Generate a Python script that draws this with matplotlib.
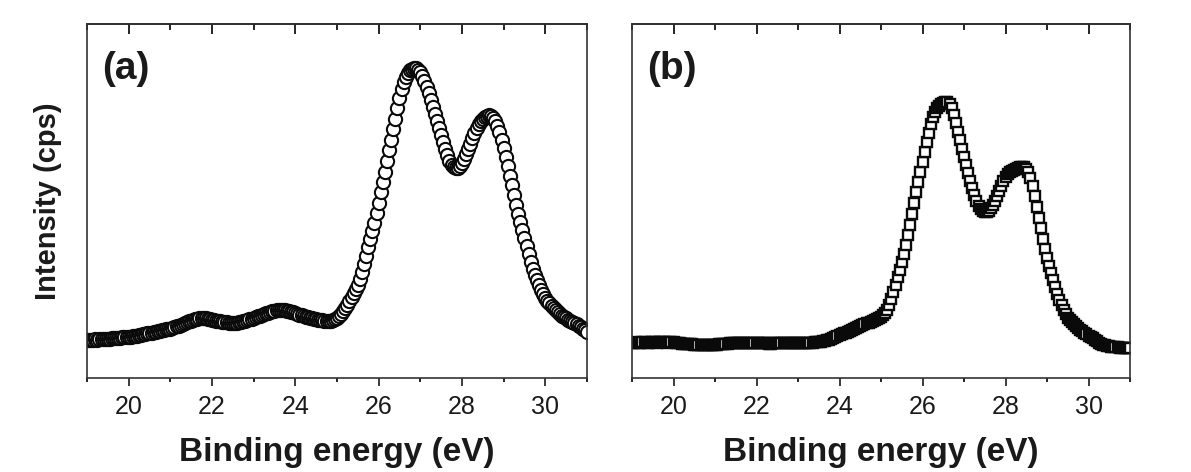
import numpy as np
import matplotlib
matplotlib.use('Agg')
import matplotlib.pyplot as plt
from matplotlib.ticker import MultipleLocator

plt.rcParams['font.family'] = ['Liberation Sans', 'DejaVu Sans']

# binding energy grid of the scan (eV), 0.05 eV step
energy = np.linspace(19.0, 31.0, 241)

# panel (a): intensity (arbitrary cps units)
int_a = [
    38, 38, 38, 38, 39, 38, 39, 39, 39, 39, 39, 39, 40, 40, 40, 40, 40, 41, 41, 41, 41,
    41, 42, 42, 42, 43, 43, 44, 44, 45, 45, 45, 46, 46, 47, 47, 48, 48, 49, 49, 49,
    50, 51, 52, 52, 53, 54, 55, 56, 57, 57, 58, 59, 59, 60, 60,
    60, 60, 59, 59, 58, 58, 57, 57, 57, 56, 56, 56, 55, 55, 55,
    55, 55, 56, 56, 57, 57, 58, 59, 59, 60,
    61, 62, 62, 63, 64, 65, 65, 66, 67, 67, 68, 68, 68,
    68, 68, 67, 67, 66, 66, 65, 64, 63, 63, 62, 61, 61, 60, 60, 59, 59,
    58, 58, 58, 57, 57, 57, 57, 58, 59, 60,
    62, 64, 67, 70, 73, 77, 81, 85, 89, 93,
    99, 106, 114, 122, 131, 139, 147, 155, 165, 175,
    186, 196, 206, 217, 228, 238, 249, 259, 270, 280,
    289, 296, 301, 305, 308, 309, 310, 310, 308, 306,
    302, 297, 291, 285, 278, 271, 264, 257, 250, 243,
    236, 229, 223, 217, 213, 211, 210, 210, 212, 215,
    219, 224, 229, 234, 240, 245, 250, 254, 257, 259,
    261, 262, 263, 262, 260, 257, 252, 246, 238, 230,
    221, 212, 202, 193, 183, 173, 164, 156, 148, 140,
    132, 124, 116, 109, 103, 98, 93, 88, 84, 80,
    77, 75, 72, 70, 68, 66, 64, 62, 61, 60,
    58, 57, 56, 55, 54, 52, 51, 49, 48, 46,
]

# panel (b)
int_b = [
    35, 35, 36, 35, 35, 36, 36, 35, 35, 36, 36, 36, 35, 36, 36, 36, 36, 35, 36, 36, 36,
    35, 35, 35, 34, 34, 34, 34, 34, 34, 33, 33, 33, 33, 33, 33, 33, 33, 33, 33, 33,
    33, 34, 34, 34, 34, 34, 35, 35, 35, 35, 35, 35, 35, 35, 35, 35, 35, 35, 35, 35,
    35, 35, 35, 35, 35, 34, 34, 35, 35, 35, 35, 35, 35, 35, 35, 35, 35, 35, 35, 35,
    35, 35, 35, 35, 35, 35, 35, 36, 36, 36,
    36, 37, 37, 38, 38, 39, 40, 41, 42, 43,
    44, 45, 45, 46, 47, 48, 49, 50, 51, 52,
    53, 54, 55, 55, 56, 57, 58, 59, 60, 61,
    63, 65, 68, 73, 79, 86, 93, 101, 108, 116,
    124, 133, 143, 153, 164, 175, 186, 196, 206, 216,
    226, 236, 245, 254, 261, 266, 270, 272, 274, 275,
    276, 276, 274, 270, 263, 255, 246, 238, 229, 221,
    213, 205, 197, 190, 183, 177, 172, 169, 167, 166,
    166, 167, 170, 173, 177, 182, 187, 192, 197, 201,
    204, 206, 207, 208, 209, 210, 211, 211, 211, 209,
    206, 200, 192, 182, 171, 160, 150, 139, 129, 120,
    112, 105, 98, 91, 84, 78, 73, 68, 64, 60,
    58, 56, 54, 52, 50, 48, 47, 45, 44, 42,
    41, 40, 38, 37, 35, 34, 33, 33, 32, 32,
    31, 31, 31, 31, 30, 30, 30, 30, 30, 30,
]

panel_tags = ['(a)', '(b)']
xticks = [20, 22, 24, 26, 28, 30]

fig = plt.figure(figsize=(11.91, 4.72), dpi=100)
ax_a = fig.add_axes([0.0730, 0.1992, 0.4198, 0.75])
ax_b = fig.add_axes([0.5307, 0.1992, 0.4181, 0.75])

ax_a.plot(energy, int_a, 'o', ms=9.5, mfc='white', mec='#0a0a0a', mew=1.5)
ax_b.plot(energy, int_b, 's', ms=7.5, mfc='white', mec='#0a0a0a', mew=1.7)

for ax, tag in zip([ax_a, ax_b], panel_tags):
    ax.set_xlim(19, 31)
    ax.set_ylim(0, 354)
    ax.set_xticks(xticks)
    ax.xaxis.set_minor_locator(MultipleLocator(1))
    ax.set_yticks([])
    ax.tick_params(axis='x', which='major', direction='out', length=6, width=1.2,
                   labelsize=18, pad=6, colors='#1a1a1a')
    ax.tick_params(axis='x', which='minor', direction='out', length=3, width=1.2)
    for s in ax.spines.values():
        s.set_linewidth(1.2)
        s.set_color('#333333')
    top = ax.secondary_xaxis('top')
    top.set_xticks(xticks)
    top.xaxis.set_minor_locator(MultipleLocator(1))
    top.tick_params(axis='x', which='major', direction='in', length=7, width=1.2, labeltop=False)
    top.tick_params(axis='x', which='minor', direction='in', length=4, width=1.2)
    top.spines['top'].set_linewidth(1.2)
    ax.set_xlabel('Binding energy (eV)', fontsize=24, fontweight='bold', labelpad=13, color='#1a1a1a')
    ax.text(0.03, 0.925, tag, transform=ax.transAxes, ha='left', va='top',
            fontsize=28, fontweight='bold', color='#1a1a1a')

ax_a.set_ylabel('Intensity (cps)', fontsize=21, fontweight='bold', labelpad=18, color='#1a1a1a')

fig.savefig('out.png', dpi=100)
print('OK')
